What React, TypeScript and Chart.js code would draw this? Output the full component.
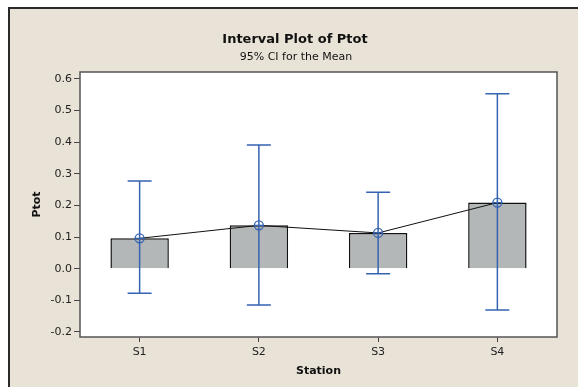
import React, { useEffect, useRef } from "react";
import { Chart, registerables } from "chart.js";

Chart.register(...registerables);

const categories = ["S1", "S2", "S3", "S4"];
const means = [0.096, 0.137, 0.113, 0.209];
const ciLow = [-0.078, -0.115, -0.016, -0.131];
const ciHigh = [0.277, 0.391, 0.242, 0.553];
const yTicks = [-0.2, -0.1, 0, 0.1, 0.2, 0.3, 0.4, 0.5, 0.6];

const titleText = "Interval Plot of Ptot";
const subtitleText = "95% CI for the Mean";
const xTitle = "Station";
const yTitle = "Ptot";

const FONT = "'DejaVu Sans', Tahoma, sans-serif";
const BLUE = "#3563b2";

const decorPlugin = {
  id: "decor",
  beforeDraw(chart: any) {
    const { ctx, width, height, chartArea } = chart;
    ctx.save();
    ctx.fillStyle = "#ffffff";
    ctx.fillRect(0, 0, width, height);
    ctx.fillStyle = "#e9e3d7";
    ctx.fillRect(9, 8, width - 9, height - 8);
    ctx.strokeStyle = "#2a2a2a";
    ctx.lineWidth = 2;
    ctx.beginPath();
    ctx.moveTo(9, height);
    ctx.lineTo(9, 8);
    ctx.lineTo(width, 8);
    ctx.stroke();
    ctx.fillStyle = "#ffffff";
    ctx.fillRect(chartArea.left, chartArea.top, chartArea.right - chartArea.left, chartArea.bottom - chartArea.top);
    // titles
    ctx.fillStyle = "#111";
    ctx.textAlign = "center";
    ctx.textBaseline = "middle";
    ctx.font = `bold 13px ${FONT}`;
    ctx.fillText(titleText, 295, 40);
    ctx.font = `11px ${FONT}`;
    ctx.fillText(subtitleText, 296, 57);
    ctx.font = `bold 11px ${FONT}`;
    ctx.fillText(xTitle, (chartArea.left + chartArea.right) / 2, 371);
    ctx.save();
    ctx.translate(37, (chartArea.top + chartArea.bottom) / 2);
    ctx.rotate(-Math.PI / 2);
    ctx.fillText(yTitle, 0, 0);
    ctx.restore();
    ctx.restore();
  },
  afterDatasetsDraw(chart: any) {
    const { ctx, chartArea } = chart;
    const xs = chart.scales.x;
    const ys = chart.scales.y;
    ctx.save();
    ctx.strokeStyle = BLUE;
    for (let i = 0; i < categories.length; i++) {
      const x = xs.getPixelForValue(i);
      const yt = ys.getPixelForValue(ciHigh[i]);
      const yb = ys.getPixelForValue(ciLow[i]);
      const ym = ys.getPixelForValue(means[i]);
      ctx.lineWidth = 1.5;
      ctx.beginPath();
      ctx.moveTo(x, yt);
      ctx.lineTo(x, yb);
      ctx.moveTo(x - 12, yt);
      ctx.lineTo(x + 12, yt);
      ctx.moveTo(x - 12, yb);
      ctx.lineTo(x + 12, yb);
      ctx.stroke();
      ctx.lineWidth = 1.3;
      ctx.beginPath();
      ctx.arc(x, ym, 4.5, 0, Math.PI * 2);
      ctx.moveTo(x - 4.5, ym);
      ctx.lineTo(x + 4.5, ym);
      ctx.stroke();
    }
    // plot border
    ctx.strokeStyle = "#555";
    ctx.lineWidth = 1.5;
    ctx.strokeRect(chartArea.left, chartArea.top, chartArea.right - chartArea.left, chartArea.bottom - chartArea.top);
    ctx.restore();
  },
};

export default function App() {
  const ref = useRef<HTMLCanvasElement>(null);
  useEffect(() => {
    document.body.style.margin = "0";
    const chart = new Chart(ref.current as HTMLCanvasElement, {
      type: "bar",
      data: {
        labels: categories,
        datasets: [
          {
            type: "line",
            data: means,
            borderColor: "#111",
            borderWidth: 1,
            pointRadius: 0,
            tension: 0,
            order: 0,
          } as any,
          {
            type: "bar",
            data: means,
            backgroundColor: "#b4b7b7",
            borderColor: "#111",
            borderWidth: 1.5,
            categoryPercentage: 1,
            barPercentage: 0.49,
            order: 1,
          },
        ],
      },
      options: {
        responsive: false,
        animation: false,
        layout: { padding: { left: 0, top: 72, right: 21, bottom: 0 } },
        plugins: {
          legend: { display: false },
          title: { display: false },
          tooltip: { enabled: false },
        },
        scales: {
          x: {
            offset: true,
            grid: { offset: false, drawOnChartArea: false, drawTicks: true, tickLength: 5, color: "#444" },
            border: { display: false },
            ticks: { font: { family: FONT, size: 11 }, color: "#222", padding: 4 },
            afterFit: (s: any) => { s.height = 50; },
          },
          y: {
            min: -0.216,
            max: 0.622,
            afterBuildTicks: (s: any) => { s.ticks = yTicks.map((v) => ({ value: v })); },
            grid: { drawOnChartArea: false, drawTicks: true, tickLength: 6, color: "#444" },
            border: { display: false },
            ticks: {
              font: { family: FONT, size: 11 },
              color: "#222",
              padding: 2,
              callback: (v: any) => Number(v).toFixed(1),
            },
            afterFit: (s: any) => { s.width = 80; },
          },
        },
      },
      plugins: [decorPlugin],
    });
    return () => chart.destroy();
  }, []);
  return <canvas ref={ref} width={578} height={387} style={{ display: "block" }} />;
}
